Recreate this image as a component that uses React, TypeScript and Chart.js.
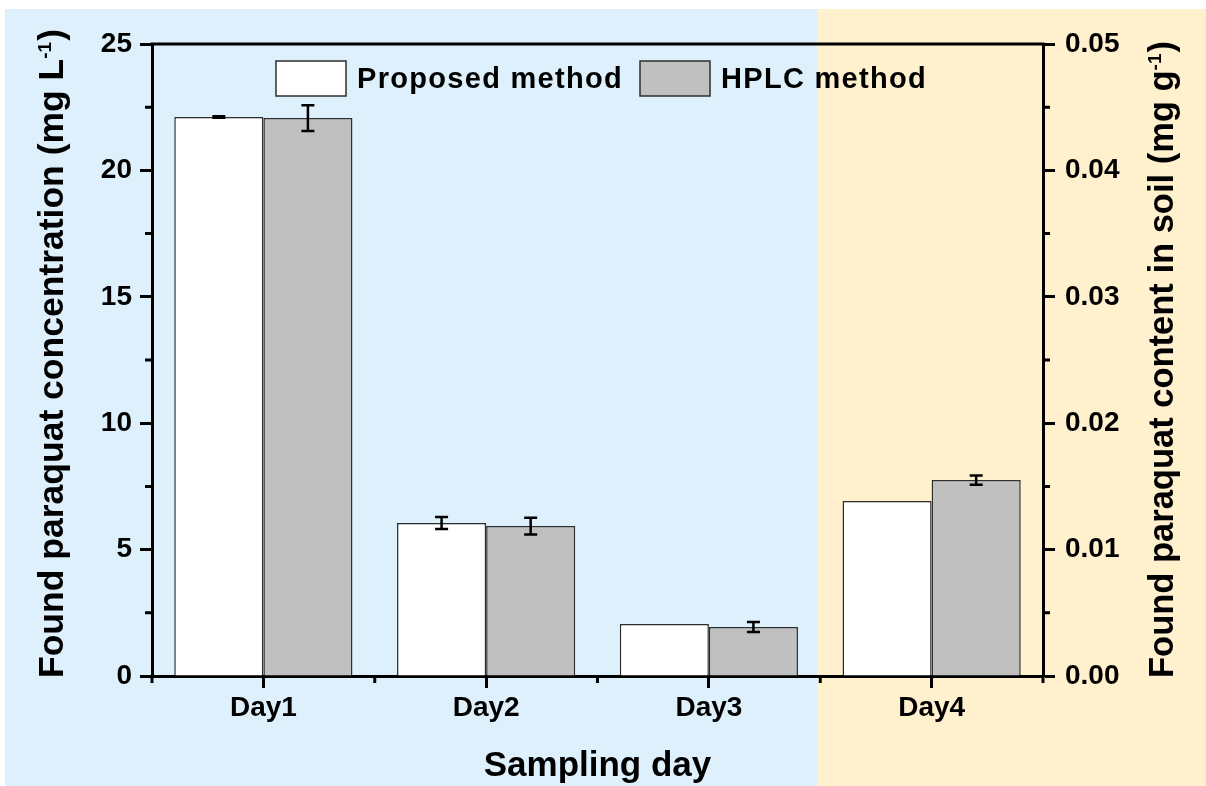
import React, { useEffect, useRef } from "react";
import { Chart, registerables } from "chart.js";

Chart.register(...registerables);

// ---------- data ----------
const categories = ["Day1", "Day2", "Day3", "Day4"];
const seriesLabels = ["Proposed method", "HPLC method"];
const proposedValues = [22.11, 6.05, 2.06, 6.92];
const proposedErrors = [0.03, 0.24, 0, 0];
const hplcValues = [22.07, 5.93, 1.94, 7.75];
const hplcErrors = [0.51, 0.33, 0.2, 0.18];
const leftTicks = [0, 5, 10, 15, 20, 25];
const leftMinorTicks = [2.5, 7.5, 12.5, 17.5, 22.5];
const rightTicks = [0, 0.01, 0.02, 0.03, 0.04, 0.05];
const rightMinorTicks = [0.005, 0.015, 0.025, 0.035, 0.045];
const xTitle = "Sampling day";
const leftTitle = ["Found paraquat concentration (mg L", "-1", ")"];
const rightTitle = ["Found paraquat content in soil (mg g", "-1", ")"];

// ---------- styles ----------
const FAMILY = "'Liberation Sans', Arial, Helvetica, sans-serif";
const tickFont = { family: FAMILY, size: 28, weight: "bold" as const };
const BLUE_BG = "#ddf0fc";
const ORANGE_BG = "#fff0ce";
const BAR_COLORS = ["#ffffff", "#c0c0c0"];
const BAR_BORDER = "#2e2e2e";

const bgPlugin = {
  id: "bgPlugin",
  beforeDraw(chart: any) {
    const { ctx, width, height } = chart;
    ctx.save();
    ctx.fillStyle = "#ffffff";
    ctx.fillRect(0, 0, width, height);
    ctx.fillStyle = BLUE_BG;
    ctx.fillRect(5, 9, 817 - 5, height - 9);
    ctx.fillStyle = ORANGE_BG;
    ctx.fillRect(817, 9, width - 817, height - 9);
    ctx.restore();
  },
};

const errorPlugin = {
  id: "errorPlugin",
  afterDatasetsDraw(chart: any) {
    const { ctx } = chart;
    const ys = chart.scales.y;
    ctx.save();
    ctx.strokeStyle = "#000000";
    ctx.lineWidth = 2.5;
    chart.data.datasets.forEach((ds: any, i: number) => {
      const meta = chart.getDatasetMeta(i);
      meta.data.forEach((el: any, j: number) => {
        const err = ds.errors[j];
        if (!err) return;
        const v = ds.data[j];
        const yTop = ys.getPixelForValue(v + err);
        const yBot = ys.getPixelForValue(v - err);
        const x = el.x;
        const half = 6.5;
        ctx.beginPath();
        ctx.moveTo(x, yTop);
        ctx.lineTo(x, yBot);
        ctx.moveTo(x - half, yTop);
        ctx.lineTo(x + half, yTop);
        ctx.moveTo(x - half, yBot);
        ctx.lineTo(x + half, yBot);
        ctx.stroke();
      });
    });
    ctx.restore();
  },
};

function drawRotatedTitle(ctx: any, parts: string[], x: number, y: number, size: number) {
  ctx.save();
  ctx.translate(x, y);
  ctx.rotate(-Math.PI / 2);
  ctx.fillStyle = "#000";
  ctx.textBaseline = "alphabetic";
  ctx.textAlign = "left";
  ctx.font = `bold ${size}px ${FAMILY}`;
  let cx = 0;
  ctx.fillText(parts[0], cx, 0);
  cx += ctx.measureText(parts[0]).width;
  ctx.font = `bold 19px ${FAMILY}`;
  ctx.fillText(parts[1], cx, -12);
  cx += ctx.measureText(parts[1]).width + 1;
  ctx.font = `bold ${size}px ${FAMILY}`;
  ctx.fillText(parts[2], cx, 0);
  ctx.restore();
}

const decorPlugin = {
  id: "decorPlugin",
  afterDraw(chart: any) {
    const { ctx, chartArea } = chart;
    const { left, right, top, bottom } = chartArea;
    const ys = chart.scales.y;
    const ys1 = chart.scales.y1;
    const xs = chart.scales.x;
    ctx.save();
    ctx.strokeStyle = "#000";
    ctx.lineWidth = 3;
    // top frame
    ctx.beginPath();
    ctx.moveTo(left - 1.5, top);
    ctx.lineTo(right + 1.5, top);
    ctx.stroke();
    // minor ticks
    ctx.beginPath();
    leftMinorTicks.forEach((v) => {
      const y = ys.getPixelForValue(v);
      ctx.moveTo(left - 7, y);
      ctx.lineTo(left, y);
    });
    rightMinorTicks.forEach((v) => {
      const y = ys1.getPixelForValue(v);
      ctx.moveTo(right, y);
      ctx.lineTo(right + 7, y);
    });
    const n = categories.length;
    for (let i = 0; i <= n; i++) {
      let x: number;
      if (i === 0) x = left;
      else if (i === n) x = right;
      else x = (xs.getPixelForValue(i - 1) + xs.getPixelForValue(i)) / 2;
      ctx.moveTo(x, bottom);
      ctx.lineTo(x, bottom + 7);
    }
    ctx.stroke();

    // legend
    const legendBoxes = [276, 640];
    chart.data.datasets.forEach((ds: any, i: number) => {
      const bx = legendBoxes[i];
      ctx.fillStyle = ds.backgroundColor;
      ctx.fillRect(bx, 61, 70, 35);
      ctx.strokeStyle = BAR_BORDER;
      ctx.lineWidth = 1.5;
      ctx.strokeRect(bx, 61, 70, 35);
      ctx.fillStyle = "#000";
      ctx.font = `bold 29px ${FAMILY}`;
      (ctx as any).letterSpacing = "1.3px";
      ctx.textAlign = "left";
      ctx.textBaseline = "alphabetic";
      ctx.fillText(ds.label, bx + 81, 88);
      (ctx as any).letterSpacing = "0px";
    });

    // x title
    ctx.fillStyle = "#000";
    ctx.font = `bold 35px ${FAMILY}`;
    ctx.textAlign = "center";
    ctx.textBaseline = "alphabetic";
    ctx.fillText(xTitle, (left + right) / 2, 776);
    ctx.restore();

    drawRotatedTitle(ctx, leftTitle, 63, 678, 35.5);
    drawRotatedTitle(ctx, rightTitle, 1173, 678, 34.5);
  },
};

export default function App() {
  const ref = useRef<HTMLCanvasElement>(null);
  useEffect(() => {
    const canvas = ref.current!;
    const axisGrid = {
      display: true,
      offset: false,
      drawOnChartArea: false,
      drawTicks: true,
      tickLength: 12,
      tickWidth: 3,
      tickColor: "#000",
    };
    const axisBorder = { display: true, width: 3, color: "#000" };
    const chart = new Chart(canvas, {
      type: "bar",
      data: {
        labels: categories,
        datasets: [
          {
            label: seriesLabels[0],
            data: proposedValues,
            errors: proposedErrors,
            backgroundColor: BAR_COLORS[0],
            borderColor: BAR_BORDER,
            borderWidth: 1.5,
            yAxisID: "y",
          } as any,
          {
            label: seriesLabels[1],
            data: hplcValues,
            errors: hplcErrors,
            backgroundColor: BAR_COLORS[1],
            borderColor: BAR_BORDER,
            borderWidth: 1.5,
            yAxisID: "y",
          } as any,
        ],
      },
      options: {
        responsive: false,
        animation: false,
        devicePixelRatio: 1,
        layout: { padding: { top: 44, left: 0, right: 0, bottom: 0 } },
        datasets: { bar: { categoryPercentage: 0.8, barPercentage: 1 } },
        plugins: { legend: { display: false }, tooltip: { enabled: false } },
        scales: {
          x: {
            z: 1,
            grid: axisGrid,
            border: axisBorder,
            ticks: { font: tickFont, color: "#000", padding: 3 },
            afterFit: (s: any) => {
              s.height = 110;
            },
          },
          y: {
            z: 1,
            position: "left",
            min: 0,
            max: 25,
            grid: axisGrid,
            border: axisBorder,
            ticks: { font: tickFont, color: "#000", padding: 8 },
            afterBuildTicks: (s: any) => {
              s.ticks = leftTicks.map((v) => ({ value: v }));
            },
            afterFit: (s: any) => {
              s.width = 152;
            },
          },
          y1: {
            z: 1,
            position: "right",
            min: 0,
            max: 0.05,
            grid: axisGrid,
            border: axisBorder,
            ticks: {
              font: tickFont,
              color: "#000",
              padding: 10,
              callback: (v: any) => Number(v).toFixed(2),
            },
            afterBuildTicks: (s: any) => {
              s.ticks = rightTicks.map((v) => ({ value: v }));
            },
            afterFit: (s: any) => {
              s.width = 163;
            },
          },
        },
      } as any,
      plugins: [bgPlugin, errorPlugin, decorPlugin],
    });
    return () => chart.destroy();
  }, []);

  return (
    <div style={{ position: "absolute", left: 0, top: 0, width: 1206, height: 786 }}>
      <canvas ref={ref} width={1206} height={786} style={{ display: "block", width: 1206, height: 786 }} />
    </div>
  );
}
